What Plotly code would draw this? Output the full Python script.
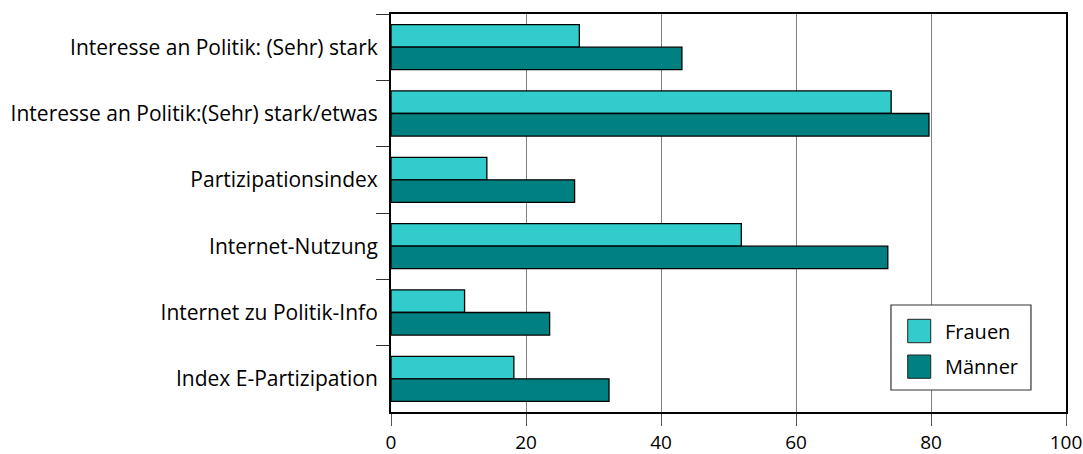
import plotly.graph_objects as go

categories = [
    "Interesse an Politik: (Sehr) stark",
    "Interesse an Politik:(Sehr) stark/etwas",
    "Partizipationsindex",
    "Internet-Nutzung",
    "Internet zu Politik-Info",
    "Index E-Partizipation",
]
frauen = [27.9, 74.1, 14.2, 51.9, 10.9, 18.2]
maenner = [43.1, 79.7, 27.2, 73.6, 23.5, 32.3]
x_ticks = [0, 20, 40, 60, 80, 100]
series_names = ["Frauen", "Männer"]
series_colors = ["#33CCCC", "#008080"]

FONT = "Open Sans"

fig = go.Figure()
for name, vals, col in zip(series_names, [frauen, maenner], series_colors):
    fig.add_trace(go.Bar(y=categories, x=vals, name=name, orientation="h",
                         marker=dict(color=col, line=dict(color="black", width=1.3)),
                         showlegend=False))

# custom legend (box, swatches, labels) in paper coordinates
shapes = [dict(type="rect", xref="paper", yref="paper", x0=0.7407, x1=0.9481,
               y0=0.0553, y1=0.2688, fillcolor="white",
               line=dict(color="#333333", width=1.2), layer="above")]
annotations = []
sw_y = [(0.1741, 0.2329), (0.0847, 0.1432)]
txt_y = [0.2035, 0.1138]
for i, (name, col) in enumerate(zip(series_names, series_colors)):
    shapes.append(dict(type="rect", xref="paper", yref="paper", x0=0.7655, x1=0.7996,
                       y0=sw_y[i][0], y1=sw_y[i][1], fillcolor=col,
                       line=dict(color="#222222", width=1), layer="above"))
    annotations.append(dict(xref="paper", yref="paper", x=0.8173, y=txt_y[i],
                            xanchor="left", yanchor="middle", showarrow=False,
                            text=name, font=dict(family=FONT, size=20, color="black")))

fig.update_layout(
    width=1083, height=454,
    margin=dict(l=391, r=17, t=14, b=42, autoexpand=False),
    paper_bgcolor="white", plot_bgcolor="white",
    barmode="group", bargap=0.32, bargroupgap=0,
    font=dict(family=FONT, size=20, color="black"),
    showlegend=False,
    shapes=shapes, annotations=annotations,
    xaxis=dict(range=[0, 100], tickvals=x_ticks, ticktext=[str(v) for v in x_ticks],
               showgrid=True, gridcolor="#808080", gridwidth=1,
               ticks="outside", ticklen=12, tickcolor="#555555", tickwidth=1,
               showline=True, linecolor="black", linewidth=2, mirror=True,
               zeroline=False, tickfont=dict(size=19), ticklabelstandoff=0,
               ticklabeloverflow="allow", automargin=False),
    yaxis=dict(categoryorder="array", categoryarray=categories, autorange="reversed",
               tickson="boundaries", ticks="outside", ticklen=13, tickcolor="#333333",
               showline=True, linecolor="black", linewidth=2, mirror=True,
               showgrid=False, tickfont=dict(size=21), ticklabelstandoff=7,
               automargin=False),
)

fig.write_html("out.html")
